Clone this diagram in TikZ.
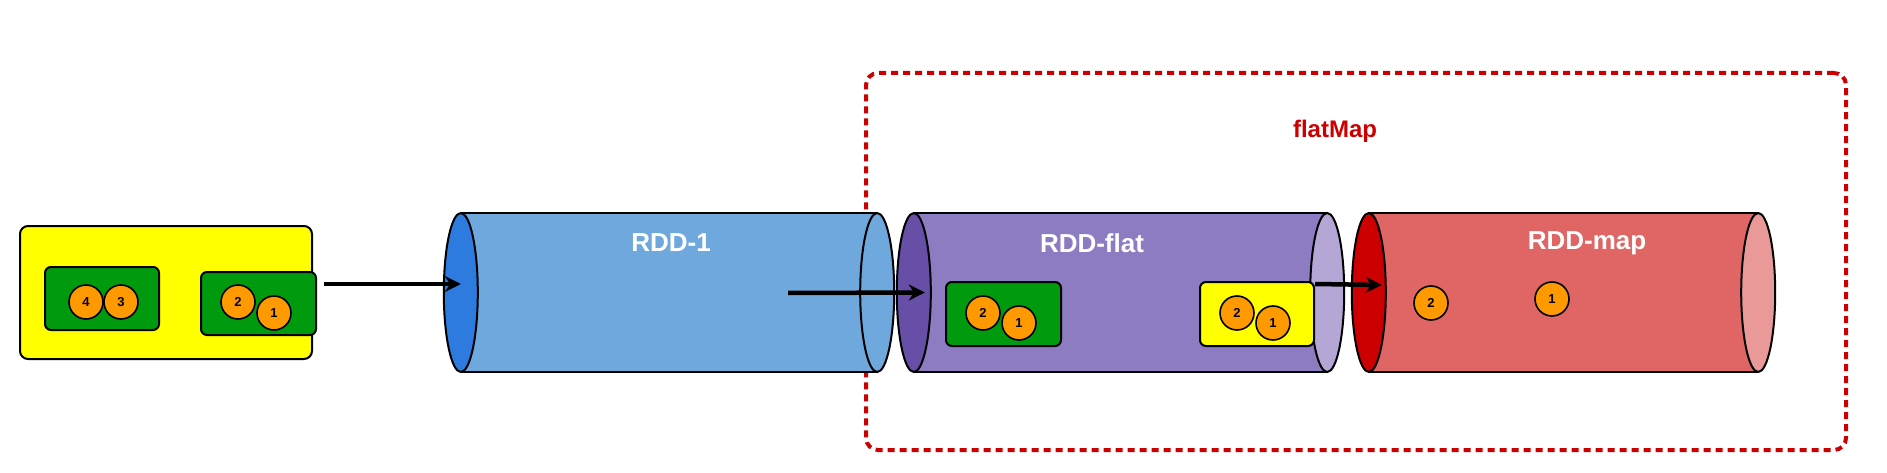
\documentclass[tikz,border=0pt]{standalone}
\usepackage{fontspec}
\setmainfont{Liberation Sans}
\usetikzlibrary{shapes.geometric, arrows.meta, positioning}
\definecolor{partyellow}{HTML}{FFFF00}
\definecolor{partgreen}{HTML}{009A0E}
\definecolor{ballorange}{HTML}{FF9900}
\definecolor{flatred}{HTML}{CC0000}

\begin{document}
\begin{tikzpicture}[
    x=1pt, y=1pt,
    outline/.style={draw=black, line width=2},
    part/.style={outline, rectangle, rounded corners=6, inner sep=0},
    ball/.style={outline, circle, fill=ballorange, line width=1.6, minimum size=34, inner sep=0, font=\bfseries\fontsize{13}{13}\selectfont},
    face/.style={outline, ellipse, minimum width=34, minimum height=159, inner sep=0},
    body/.style={rectangle, minimum height=159, inner sep=0},
    rddlabel/.style={text=white, font=\bfseries\fontsize{26}{26}\selectfont},
    flowbox/.style={draw=flatred, line width=4, dash pattern=on 7 off 5, rounded corners=12, minimum width=980, minimum height=377},
    flow/.style={-{Stealth[length=16, width=16]}, line width=4.5, draw=black}
]
    \useasboundingbox (0,0) rectangle (1887,472);

    % flatMap stage
    \node[flowbox] (flatmap) at (1356,210.5) {};
    \node[text=flatred, font=\bfseries\fontsize{24}{24}\selectfont] (flatmaptxt) at (1335,341) {flatMap};

    % input
    \node[part, fill=partyellow, rounded corners=8, minimum width=292, minimum height=133] (src) at (166,179.5) {};
    \node[part, fill=partgreen, minimum width=114, minimum height=63] (grp34) at (102,173.5) {};
    \node[part, fill=partgreen, minimum width=115, minimum height=63] (grp12) at (258.5,168.5) {};
    \node[ball] (in4) at (86,170) {4};
    \node[ball] (in3) at (121,170) {3};
    \node[ball] (in2) at (238,170) {2};
    \node[ball] (in1) at (274,159) {1};

    % RDD-1
    \node[body, fill={rgb,255:red,111;green,168;blue,220}, minimum width=416] (rdd1) at (669,179.5) {};
    \draw[outline] (rdd1.north west) -- (rdd1.north east) (rdd1.south west) -- (rdd1.south east);
    \node[face, fill={rgb,255:red,111;green,168;blue,220}] (rdd1R) at (rdd1.east) {};
    \node[face, fill={rgb,255:red,46;green,123;blue,224}] (rdd1L) at (rdd1.west) {};
    \node[rddlabel] (rdd1txt) at (671,229) {RDD-1};

    % RDD-flat
    \node[body, fill={rgb,255:red,142;green,124;blue,195}, minimum width=413] (flat) at (1120.5,179.5) {};
    \draw[outline] (flat.north west) -- (flat.north east) (flat.south west) -- (flat.south east);
    \node[face, fill={rgb,255:red,180;green,167;blue,214}] (flatR) at (flat.east) {};
    \node[face, fill={rgb,255:red,103;green,78;blue,167}] (flatL) at (flat.west) {};
    \node[rddlabel] (flattxt) at (1092,229) {RDD-flat};
    \node[part, fill=partgreen, minimum width=115, minimum height=64] (fgrp) at (1003.5,158) {};
    \node[ball] (fg2) at (983,159) {2};
    \node[ball] (fg1) at (1019,149) {1};
    \node[part, fill=partyellow, minimum width=114, minimum height=64] (fyel) at (1257,158) {};
    \node[ball] (fy2) at (1237,159) {2};
    \node[ball] (fy1) at (1273,149) {1};

    % RDD-map
    \node[body, fill={rgb,255:red,224;green,102;blue,102}, minimum width=389] (map) at (1563.5,179.5) {};
    \draw[outline] (map.north west) -- (map.north east) (map.south west) -- (map.south east);
    \node[face, fill={rgb,255:red,234;green,153;blue,153}] (mapR) at (map.east) {};
    \node[face, fill=flatred] (mapL) at (map.west) {};
    \node[rddlabel] (maptxt) at (1587,229) {RDD-map};
    \node[ball] (m2) at (1431,169) {2};
    \node[ball] (m1) at (1552,173) {1};

    % arrows
    \coordinate (flatsrc) at (788,179);
    \draw[flow] ([shift={(7,19.5)}]grp12.east) -- ([yshift=8.5]rdd1L.center);
    \draw[flow] (flatsrc) -- ([xshift=11]flatL.center);
    \draw[flow] ([yshift=-3]fyel.north east) -- ([shift={(13,7.5)}]mapL.center);
\end{tikzpicture}
\end{document}
